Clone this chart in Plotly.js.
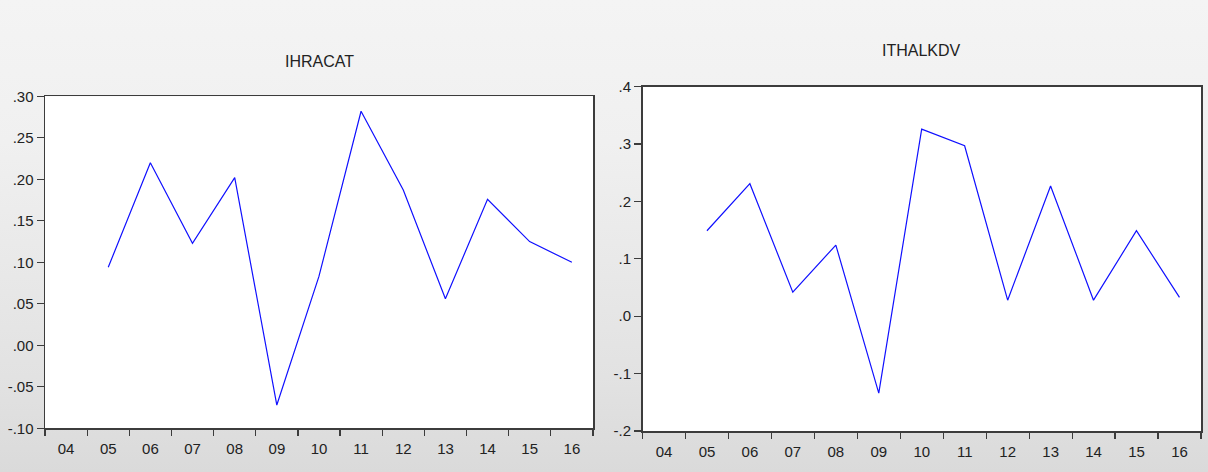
<!DOCTYPE html>
<html>
<head>
<meta charset="utf-8">
<script src="https://cdn.plot.ly/plotly-3.0.1.min.js"></script>
<style>
  html, body { margin: 0; padding: 0; }
  body { width: 1208px; height: 472px; overflow: hidden;
         background: linear-gradient(to bottom, #f4f4f4 0%, #f0f0f0 30%, #e2e2e2 80%, #dadada 100%); }
  #chart { width: 1208px; height: 472px; }
</style>
</head>
<body>
<div id="chart"></div>
<script>
// ---- data ----
const years = [2005, 2006, 2007, 2008, 2009, 2010, 2011, 2012, 2013, 2014, 2015, 2016];
const ihracat = [0.094, 0.220, 0.123, 0.202, -0.072, 0.083, 0.282, 0.187, 0.056, 0.176, 0.125, 0.100];
const ithalkdv = [0.149, 0.231, 0.042, 0.124, -0.134, 0.326, 0.297, 0.028, 0.227, 0.028, 0.149, 0.033];
const titles = ['IHRACAT', 'ITHALKDV'];
const leftTickVals = [-0.10, -0.05, 0.00, 0.05, 0.10, 0.15, 0.20, 0.25, 0.30];
const leftTickText = ['-.10', '-.05', '.00', '.05', '.10', '.15', '.20', '.25', '.30'];
const rightTickVals = [-0.2, -0.1, 0.0, 0.1, 0.2, 0.3, 0.4];
const rightTickText = ['-.2', '-.1', '.0', '.1', '.2', '.3', '.4'];
const xStart = '2004-01-01', xEnd = '2017-01-01';

// annual observations plotted at mid-period
const xDates = years.map(y => y + '-07-02');

const lineStyle = { color: '#1010ff', width: 1.2 };
const FONT = 'Liberation Sans, Arial, sans-serif';
const axisCol = '#3c3c3c';

const traces = [
  { x: xDates, y: ihracat, type: 'scatter', mode: 'lines', line: lineStyle, xaxis: 'x', yaxis: 'y', hoverinfo: 'skip' },
  { x: xDates, y: ithalkdv, type: 'scatter', mode: 'lines', line: lineStyle, xaxis: 'x2', yaxis: 'y2', hoverinfo: 'skip' }
];

function xAxis(domain, anchor) {
  return {
    type: 'date', domain: domain, anchor: anchor,
    range: [xStart, xEnd], tick0: xStart, dtick: 'M12', tickformat: '%y',
    ticklabelmode: 'period',
    showgrid: false, zeroline: false,
    showline: true, linecolor: axisCol, linewidth: 1.5, mirror: true,
    ticks: 'outside', ticklen: 6, tickwidth: 1.2, tickcolor: axisCol,
    tickfont: { family: FONT, size: 15, color: '#222' }
  };
}
function yAxis(domain, anchor, range, vals, text) {
  return {
    domain: domain, anchor: anchor, range: range,
    tickmode: 'array', tickvals: vals, ticktext: text,
    showgrid: false, zeroline: false,
    showline: true, linecolor: axisCol, linewidth: 1.5, mirror: true,
    ticks: 'outside', ticklen: 7, tickwidth: 1.2, tickcolor: axisCol,
    tickfont: { family: FONT, size: 15, color: '#222' }
  };
}

const layout = {
  width: 1208, height: 472, autosize: false,
  margin: { l: 0, r: 0, t: 0, b: 0, pad: 0 },
  paper_bgcolor: 'rgba(0,0,0,0)', plot_bgcolor: '#ffffff',
  showlegend: false,
  xaxis: xAxis([45 / 1208, 593 / 1208], 'y'),
  yaxis: yAxis([(472 - 428.3) / 472, (472 - 96.3) / 472], 'x', [-0.10, 0.30], leftTickVals, leftTickText),
  xaxis2: xAxis([642.5 / 1208, 1201 / 1208], 'y2'),
  yaxis2: yAxis([(472 - 431) / 472, (472 - 86.7) / 472], 'x2', [-0.2, 0.4], rightTickVals, rightTickText),
  annotations: [
    { text: titles[0], xref: 'x domain', x: 0.5, yref: 'paper', y: (472 - 62) / 472, yanchor: 'middle',
      showarrow: false, font: { family: FONT, size: 16, color: '#222' } },
    { text: titles[1], xref: 'x2 domain', x: 0.5, yref: 'paper', y: (472 - 50) / 472, yanchor: 'middle',
      showarrow: false, font: { family: FONT, size: 16, color: '#222' } }
  ]
};

Plotly.newPlot('chart', traces, layout, { staticPlot: true, displayModeBar: false });
</script>
</body>
</html>
